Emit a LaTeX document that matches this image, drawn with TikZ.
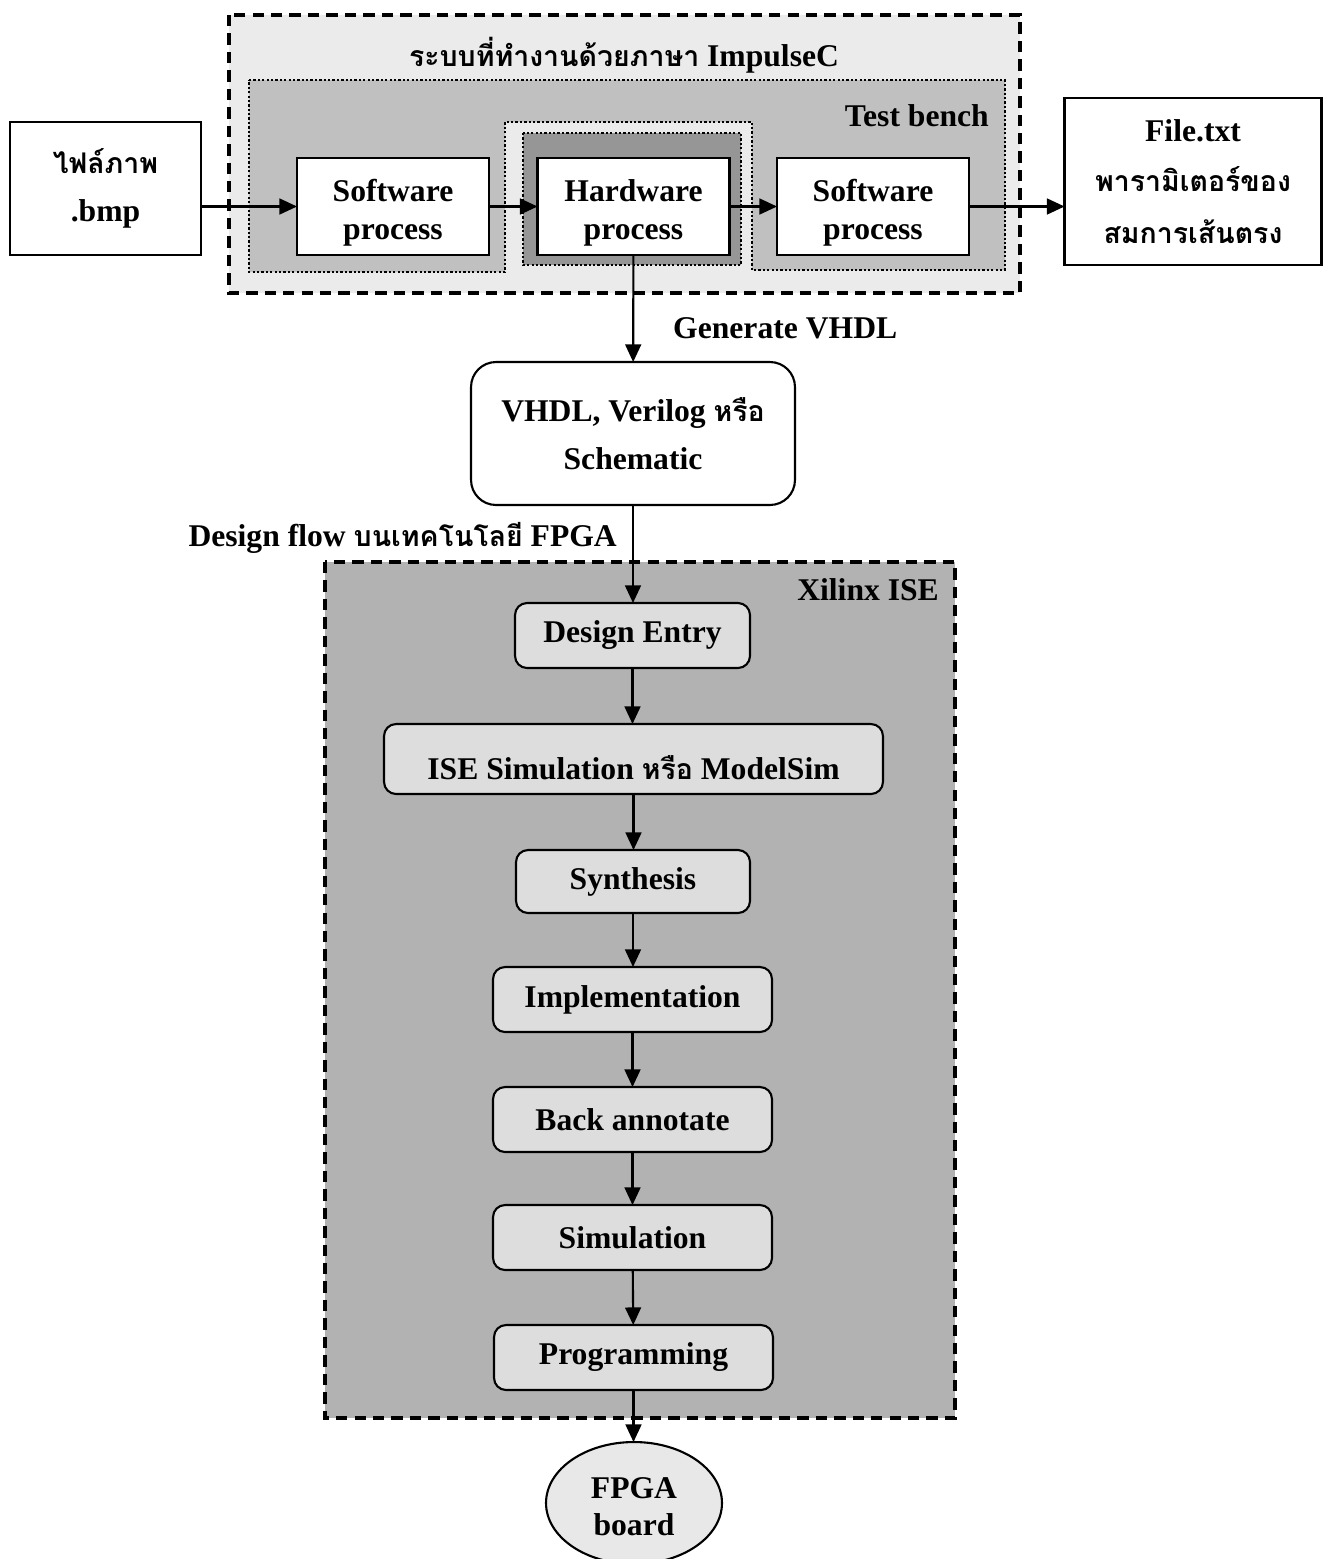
\documentclass[tikz,border=0pt]{standalone}
\usepackage{fontspec}
\setmainfont{Liberation Serif}
\newfontfamily\thaifont[Script=Thai,Scale=0.9]{Loma}
\usetikzlibrary{positioning,calc,arrows.meta,shapes.geometric}

\definecolor{outergray}{HTML}{EBEBEB}
\definecolor{benchgray}{HTML}{C0C0C0}
\definecolor{hwgray}{HTML}{969696}
\definecolor{xilinxgray}{HTML}{B2B2B2}
\definecolor{stepgray}{HTML}{DDDDDD}
\definecolor{boardgray}{HTML}{E8E8E8}

\newcommand{\thai}[1]{{\thaifont\bfseries #1}}
\newcommand{\lift}[1]{\rule{0pt}{#1}}

\tikzset{
  txt/.style={font=\bfseries\fontsize{18}{21.5}\selectfont, align=center},
  plainbox/.style={txt, draw, line width=1.2pt, fill=white, inner sep=0pt, outer sep=0pt},
  procbox/.style={plainbox, minimum width=3.84cm, minimum height=1.94cm},
  stepbox/.style={plainbox, fill=stepgray, rounded corners=0.24cm, minimum height=1.3cm},
  flow/.style={line width=1.2pt, -{Triangle[length=10pt,width=9pt]}},
  dashbox/.style={line width=1.8pt, dash pattern=on 6.5pt off 4pt},
  dotbox/.style={line width=1.3pt, dash pattern=on 1.3pt off 1.2pt}
}

\begin{document}
\begin{tikzpicture}[x=0.02cm, y=-0.02cm]
  \useasboundingbox (0,0) rectangle (1324,1559);

  % ImpulseC region
  \draw[dashbox, fill=outergray] (229,15) rectangle (1020,293);
  \node[txt] (title) at (624,55) {\thai{ระบบที่ทำงานด้วยภาษา} ImpulseC};

  % Test bench (with notch for hardware)
  \draw[dotbox, fill=benchgray] (249,80) -- (1005,80) -- (1005,270) -- (752,270)
    -- (752,122) -- (505,122) -- (505,272) -- (249,272) -- cycle;
  \node[txt, anchor=east] (bench) at (995,116) {Test bench};
  \draw[dotbox, fill=hwgray] (523,133) rectangle (741,265);

  % processes
  \node[procbox] (sw1) at (393,206.5) {\lift{19.5pt}Software\\process};
  \node[procbox] (hw) at (633.5,206.5) {\lift{19.5pt}Hardware\\process};
  \node[procbox] (sw2) at (873,206.5) {\lift{19.5pt}Software\\process};

  % in / out files
  \node[plainbox, minimum width=3.82cm, minimum height=2.66cm] (bmp) at (105.5,188.5)
    {\thai{ไฟล์ภาพ}\\[5.5pt].bmp};
  \node[plainbox, minimum width=5.14cm, minimum height=3.34cm] (file) at (1193,181.5)
    {File.txt\\[7pt]\thai{พารามิเตอร์ของ}\\[8pt]\thai{สมการเส้นตรง}};

  \draw[flow] (sw1.west -| bmp.east) -- (sw1.west);
  \draw[flow] (sw1) -- (hw);
  \draw[flow] (hw) -- (sw2);
  \draw[flow] (sw2.east) -- (sw2.east -| file.west);

  % HDL
  \node[plainbox, rounded corners=0.5cm, minimum width=6.48cm, minimum height=2.86cm] (hdl)
    at (633,433.5) {VHDL, Verilog \thai{หรือ}\\[5.5pt]Schematic};
  \draw[flow] (hw) -- (hdl);
  \node[txt, anchor=west] (genlbl) at (667,328) {Generate VHDL};

  % Xilinx ISE region
  \draw[dashbox, fill=xilinxgray] (325,562) rectangle (955,1418);
  \node[txt, anchor=east] (xlbl) at (945,590) {Xilinx ISE};
  \node[txt, anchor=east] (flowlbl) at (623,538) {Design flow \thai{บนเทคโนโลยี} FPGA};

  % design steps
  \node[stepbox, minimum width=4.7cm] (entry) at (632.5,635.5) {Design Entry};
  \node[stepbox, minimum width=9.98cm, minimum height=1.4cm] (isesim) at (633.5,759)
    {\lift{24pt}ISE Simulation \thai{หรือ} ModelSim};
  \node[stepbox, minimum width=4.68cm, minimum height=1.26cm] (synth) at (633,881.5) {Synthesis};
  \node[stepbox, minimum width=5.58cm] (impl) at (632.5,999.5) {Implementation};
  \node[stepbox, minimum width=5.58cm] (back) at (632.5,1119.5) {Back annotate};
  \node[stepbox, minimum width=5.58cm] (sim) at (632.5,1237.5) {Simulation};
  \node[stepbox, minimum width=5.58cm] (prog) at (633.5,1357.5) {Programming};
  \node[plainbox, ellipse, fill=boardgray, minimum width=3.52cm, minimum height=2.44cm] (board)
    at (634,1503) {\lift{16pt}FPGA\\board};

  \draw[flow] (hdl.south) -- (hdl.south |- entry.north);
  \draw[flow] (entry.south) -- (entry.south |- isesim.north);
  \draw[flow] (isesim.south) -- (isesim.south |- synth.north);
  \draw[flow] (synth.south) -- (synth.south |- impl.north);
  \draw[flow] (impl) -- (back);
  \draw[flow] (back) -- (sim);
  \draw[flow] (sim) -- (prog);
  \draw[flow] (prog.south) -- (prog.south |- board.north);
\end{tikzpicture}
\end{document}
